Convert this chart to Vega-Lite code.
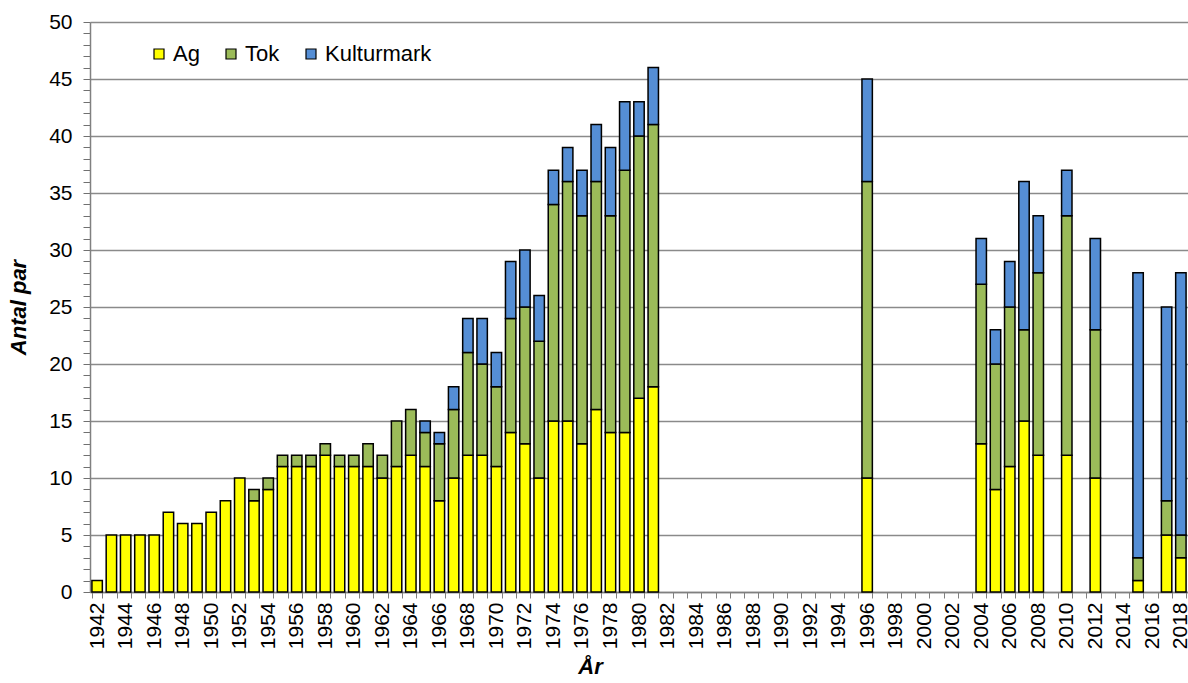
{
  "$schema": "https://vega.github.io/schema/vega-lite/v6.json",
  "width": 1098,
  "height": 570,
  "autosize": {"type": "none"},
  "padding": {"left": 90, "top": 22, "right": 0, "bottom": 91},
  "background": "white",
  "config": {"font": "Liberation Sans", "view": {"stroke": null}},
  "data": {"values": [
    {"year":1942,"type":"Ag","value":1},
    {"year":1943,"type":"Ag","value":5},
    {"year":1944,"type":"Ag","value":5},
    {"year":1945,"type":"Ag","value":5},
    {"year":1946,"type":"Ag","value":5},
    {"year":1947,"type":"Ag","value":7},
    {"year":1948,"type":"Ag","value":6},
    {"year":1949,"type":"Ag","value":6},
    {"year":1950,"type":"Ag","value":7},
    {"year":1951,"type":"Ag","value":8},
    {"year":1952,"type":"Ag","value":10},
    {"year":1953,"type":"Ag","value":8},{"year":1953,"type":"Tok","value":1},
    {"year":1954,"type":"Ag","value":9},{"year":1954,"type":"Tok","value":1},
    {"year":1955,"type":"Ag","value":11},{"year":1955,"type":"Tok","value":1},
    {"year":1956,"type":"Ag","value":11},{"year":1956,"type":"Tok","value":1},
    {"year":1957,"type":"Ag","value":11},{"year":1957,"type":"Tok","value":1},
    {"year":1958,"type":"Ag","value":12},{"year":1958,"type":"Tok","value":1},
    {"year":1959,"type":"Ag","value":11},{"year":1959,"type":"Tok","value":1},
    {"year":1960,"type":"Ag","value":11},{"year":1960,"type":"Tok","value":1},
    {"year":1961,"type":"Ag","value":11},{"year":1961,"type":"Tok","value":2},
    {"year":1962,"type":"Ag","value":10},{"year":1962,"type":"Tok","value":2},
    {"year":1963,"type":"Ag","value":11},{"year":1963,"type":"Tok","value":4},
    {"year":1964,"type":"Ag","value":12},{"year":1964,"type":"Tok","value":4},
    {"year":1965,"type":"Ag","value":11},{"year":1965,"type":"Tok","value":3},{"year":1965,"type":"Kulturmark","value":1},
    {"year":1966,"type":"Ag","value":8},{"year":1966,"type":"Tok","value":5},{"year":1966,"type":"Kulturmark","value":1},
    {"year":1967,"type":"Ag","value":10},{"year":1967,"type":"Tok","value":6},{"year":1967,"type":"Kulturmark","value":2},
    {"year":1968,"type":"Ag","value":12},{"year":1968,"type":"Tok","value":9},{"year":1968,"type":"Kulturmark","value":3},
    {"year":1969,"type":"Ag","value":12},{"year":1969,"type":"Tok","value":8},{"year":1969,"type":"Kulturmark","value":4},
    {"year":1970,"type":"Ag","value":11},{"year":1970,"type":"Tok","value":7},{"year":1970,"type":"Kulturmark","value":3},
    {"year":1971,"type":"Ag","value":14},{"year":1971,"type":"Tok","value":10},{"year":1971,"type":"Kulturmark","value":5},
    {"year":1972,"type":"Ag","value":13},{"year":1972,"type":"Tok","value":12},{"year":1972,"type":"Kulturmark","value":5},
    {"year":1973,"type":"Ag","value":10},{"year":1973,"type":"Tok","value":12},{"year":1973,"type":"Kulturmark","value":4},
    {"year":1974,"type":"Ag","value":15},{"year":1974,"type":"Tok","value":19},{"year":1974,"type":"Kulturmark","value":3},
    {"year":1975,"type":"Ag","value":15},{"year":1975,"type":"Tok","value":21},{"year":1975,"type":"Kulturmark","value":3},
    {"year":1976,"type":"Ag","value":13},{"year":1976,"type":"Tok","value":20},{"year":1976,"type":"Kulturmark","value":4},
    {"year":1977,"type":"Ag","value":16},{"year":1977,"type":"Tok","value":20},{"year":1977,"type":"Kulturmark","value":5},
    {"year":1978,"type":"Ag","value":14},{"year":1978,"type":"Tok","value":19},{"year":1978,"type":"Kulturmark","value":6},
    {"year":1979,"type":"Ag","value":14},{"year":1979,"type":"Tok","value":23},{"year":1979,"type":"Kulturmark","value":6},
    {"year":1980,"type":"Ag","value":17},{"year":1980,"type":"Tok","value":23},{"year":1980,"type":"Kulturmark","value":3},
    {"year":1981,"type":"Ag","value":18},{"year":1981,"type":"Tok","value":23},{"year":1981,"type":"Kulturmark","value":5},
    {"year":1996,"type":"Ag","value":10},{"year":1996,"type":"Tok","value":26},{"year":1996,"type":"Kulturmark","value":9},
    {"year":2004,"type":"Ag","value":13},{"year":2004,"type":"Tok","value":14},{"year":2004,"type":"Kulturmark","value":4},
    {"year":2005,"type":"Ag","value":9},{"year":2005,"type":"Tok","value":11},{"year":2005,"type":"Kulturmark","value":3},
    {"year":2006,"type":"Ag","value":11},{"year":2006,"type":"Tok","value":14},{"year":2006,"type":"Kulturmark","value":4},
    {"year":2007,"type":"Ag","value":15},{"year":2007,"type":"Tok","value":8},{"year":2007,"type":"Kulturmark","value":13},
    {"year":2008,"type":"Ag","value":12},{"year":2008,"type":"Tok","value":16},{"year":2008,"type":"Kulturmark","value":5},
    {"year":2010,"type":"Ag","value":12},{"year":2010,"type":"Tok","value":21},{"year":2010,"type":"Kulturmark","value":4},
    {"year":2012,"type":"Ag","value":10},{"year":2012,"type":"Tok","value":13},{"year":2012,"type":"Kulturmark","value":8},
    {"year":2015,"type":"Ag","value":1},{"year":2015,"type":"Tok","value":2},{"year":2015,"type":"Kulturmark","value":25},
    {"year":2017,"type":"Ag","value":5},{"year":2017,"type":"Tok","value":3},{"year":2017,"type":"Kulturmark","value":17},
    {"year":2018,"type":"Ag","value":3},{"year":2018,"type":"Tok","value":2},{"year":2018,"type":"Kulturmark","value":23}
  ]},
  "transform": [{"calculate": "indexof(['Ag','Tok','Kulturmark'], datum.type)", "as": "stackOrder"}],
  "mark": {"type": "bar", "stroke": "black", "strokeWidth": 1.5},
  "encoding": {
    "x": {
      "field": "year", "type": "ordinal",
      "scale": {
        "domain": [1942,1943,1944,1945,1946,1947,1948,1949,1950,1951,1952,1953,1954,1955,1956,1957,1958,1959,1960,1961,1962,1963,1964,1965,1966,1967,1968,1969,1970,1971,1972,1973,1974,1975,1976,1977,1978,1979,1980,1981,1982,1983,1984,1985,1986,1987,1988,1989,1990,1991,1992,1993,1994,1995,1996,1997,1998,1999,2000,2001,2002,2003,2004,2005,2006,2007,2008,2009,2010,2011,2012,2013,2014,2015,2016,2017,2018],
        "paddingInner": 0.27, "paddingOuter": 0.135
      },
      "axis": {
        "title": "År",
        "titleFont": "Liberation Sans", "titleFontSize": 22, "titleFontWeight": "bold", "titleFontStyle": "italic",
        "titleColor": "black", "titleX": 500, "titleY": 64, "titleBaseline": "top",
        "labelAngle": 270, "labelFontSize": 21, "labelColor": "black", "labelPadding": 4,
        "labelExpr": "datum.value % 2 == 0 ? datum.label : ''",
        "labelOverlap": false,
        "tickBand": "extent", "tickSize": 6, "tickColor": "#808080",
        "domainColor": "#808080", "domainWidth": 1.5
      }
    },
    "y": {
      "field": "value", "type": "quantitative", "stack": "zero",
      "scale": {"domain": [0, 50], "nice": false},
      "axis": {
        "title": "Antal par",
        "titleFont": "Liberation Sans", "titleFontSize": 22, "titleFontWeight": "bold", "titleFontStyle": "italic",
        "titleColor": "black", "titlePadding": 18,
        "values": [0,1,2,3,4,5,6,7,8,9,10,11,12,13,14,15,16,17,18,19,20,21,22,23,24,25,26,27,28,29,30,31,32,33,34,35,36,37,38,39,40,41,42,43,44,45,46,47,48,49,50],
        "labelExpr": "datum.value % 5 == 0 ? datum.label : ''",
        "labelOverlap": false,
        "labelFontSize": 21, "labelColor": "black", "labelPadding": 11,
        "tickSize": 7, "tickColor": "#707070", "tickWidth": 1,
        "grid": true, "gridColor": "#8a8a8a", "gridWidth": 1.5,
        "gridOpacity": {"condition": {"test": "datum.value % 5 == 0", "value": 1}, "value": 0},
        "domainColor": "#808080", "domainWidth": 1.5
      }
    },
    "order": {"field": "stackOrder", "type": "quantitative", "sort": "ascending"},
    "color": {
      "field": "type", "type": "nominal",
      "sort": ["Ag", "Tok", "Kulturmark"],
      "scale": {"domain": ["Ag", "Tok", "Kulturmark"], "range": ["#FFFF00", "#9BBB59", "#558ED5"]},
      "legend": {
        "title": null, "orient": "none", "direction": "horizontal",
        "legendX": 58, "legendY": 21, "padding": 0,
        "symbolType": "square", "symbolSize": 100, "symbolStrokeColor": "black", "symbolStrokeWidth": 1.2,
        "labelFontSize": 22, "labelColor": "black", "labelOffset": 3, "columnPadding": 20
      }
    }
  }
}
